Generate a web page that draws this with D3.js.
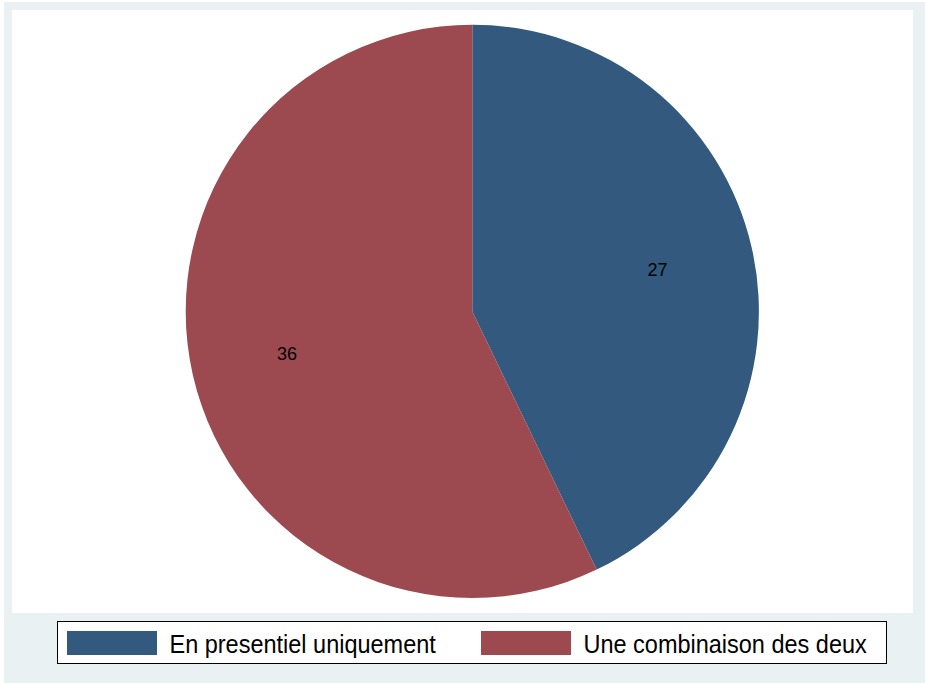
<!DOCTYPE html>
<html><head><meta charset="utf-8">
<script src="https://cdn.jsdelivr.net/npm/d3@7"></script>
<style>html,body{margin:0;padding:0;background:#fff;}svg{display:block;}</style>
</head><body>
<script>
const categories = ["En presentiel uniquement", "Une combinaison des deux"];
const values = [27, 36];
const colors = ["#335A7E", "#9C4A50"];

const W = 925, H = 683;
const svg = d3.select("body").append("svg").attr("width", W).attr("height", H);
svg.append("rect").attr("x", 4).attr("y", 2).attr("width", W - 4).attr("height", H - 2).attr("fill", "#EAF1F3");
svg.append("rect").attr("x", 12).attr("y", 10).attr("width", 901).attr("height", 603).attr("fill", "#fff");

const cx = 472.3, cy = 311.4, R = 286.6;
const pie = d3.pie().sort(null).value(d => d)(values);
const arc = d3.arc().innerRadius(0).outerRadius(R);
const labelArc = d3.arc().innerRadius(190).outerRadius(190);
const g = svg.append("g").attr("transform", `translate(${cx},${cy})`);
g.selectAll("path").data(pie).join("path").attr("d", arc).attr("fill", (d, i) => colors[i]);
g.selectAll("text").data(pie).join("text")
  .attr("transform", d => `translate(${labelArc.centroid(d)})`)
  .attr("text-anchor", "middle").attr("dy", "0.36em")
  .attr("font-family", "Liberation Sans, Arial, sans-serif").attr("font-size", 18)
  .attr("fill", "#000").text(d => d.data);

// legend
svg.append("rect").attr("x", 57.5).attr("y", 621.5).attr("width", 829).attr("height", 42)
  .attr("fill", "#fff").attr("stroke", "#000").attr("stroke-width", 1);
const legX = [67, 481];
categories.forEach((c, i) => {
  svg.append("rect").attr("x", legX[i]).attr("y", 631).attr("width", 90).attr("height", 24).attr("fill", colors[i]);
  svg.append("text").attr("transform", `translate(${legX[i] + 102.5},652.5) scale(1,1.08)`)
    .attr("font-family", "Liberation Sans, Arial, sans-serif").attr("font-size", 23.5)
    .attr("fill", "#000").text(c);
});
</script>
</body></html>
